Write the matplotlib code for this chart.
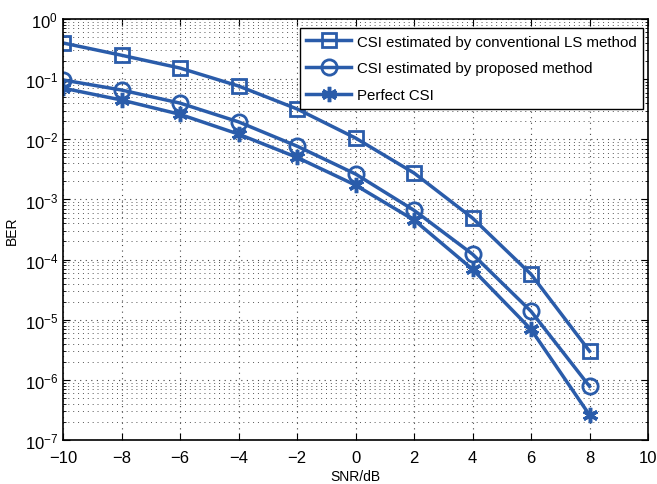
import numpy as np
import matplotlib.pyplot as plt
from matplotlib.ticker import LogLocator, NullFormatter, FixedLocator

snr = [-10, -8, -6, -4, -2, 0, 2, 4, 6, 8]
ber_ls = [0.40, 0.25, 0.153, 0.077, 0.032, 0.0105, 2.75e-3, 4.9e-4, 5.7e-5, 3.0e-6]
ber_proposed = [0.097, 0.066, 0.040, 0.0195, 7.7e-3, 2.65e-3, 6.6e-4, 1.23e-4, 1.38e-5, 7.8e-7]
ber_perfect = [0.071, 0.045, 0.026, 0.0122, 5.0e-3, 1.73e-3, 4.55e-4, 6.9e-5, 6.9e-6, 2.6e-7]

labels = ["CSI estimated by conventional LS method",
          "CSI estimated by proposed method",
          "Perfect CSI"]

plt.rcParams.update({'font.family': 'Liberation Sans', 'font.size': 10})

color = '#2a5caa'
fig = plt.figure(figsize=(6.57, 4.85), dpi=100)
ax = fig.add_axes([0.0959, 0.0907, 0.8905, 0.868])

ax.semilogy(snr, ber_ls, '-', color=color, lw=2.5, marker='s', ms=10,
            mfc='none', mew=2, label=labels[0])
ax.semilogy(snr, ber_proposed, '-', color=color, lw=2.5, marker='o', ms=11,
            mfc='none', mew=2, label=labels[1])
ax.semilogy(snr, ber_perfect, '-', color=color, lw=2.5, marker=(6, 2, 0), ms=11,
            mew=2.5, label=labels[2])

ax.set_xlim(-10, 10)
ax.set_ylim(1e-7, 1)
ax.xaxis.set_major_locator(FixedLocator(np.arange(-10, 11, 2)))
ax.yaxis.set_major_locator(LogLocator(base=10, numticks=10))
ax.yaxis.set_minor_locator(LogLocator(base=10, subs=np.arange(2, 10), numticks=100))
ax.yaxis.set_minor_formatter(NullFormatter())

ax.grid(True, which='major', linestyle=(0, (1, 4)), color='#444444', lw=0.8)
ax.grid(True, which='minor', axis='y', linestyle=(0, (1, 4)), color='#555555', lw=0.7)
ax.tick_params(which='both', direction='in', top=True, right=True, labelsize=12)
ax.tick_params(axis='x', which='major', pad=7)
ax.tick_params(which='major', length=5)
ax.tick_params(which='minor', length=2.5)
for s in ax.spines.values():
    s.set_linewidth(1.2)

ax.set_xlabel("SNR/dB", fontsize=10, labelpad=3)
ax.set_ylabel("BER", fontsize=10, labelpad=4)

leg = ax.legend(loc='upper right', bbox_to_anchor=(0.9915, 0.979), fontsize=10.8,
                frameon=True, fancybox=False, edgecolor='black', framealpha=1,
                handlelength=3.0, borderaxespad=0, labelspacing=0.85,
                borderpad=0.45, handletextpad=0.35)
leg.get_frame().set_linewidth(1.0)

fig.savefig("out.png", dpi=100)
